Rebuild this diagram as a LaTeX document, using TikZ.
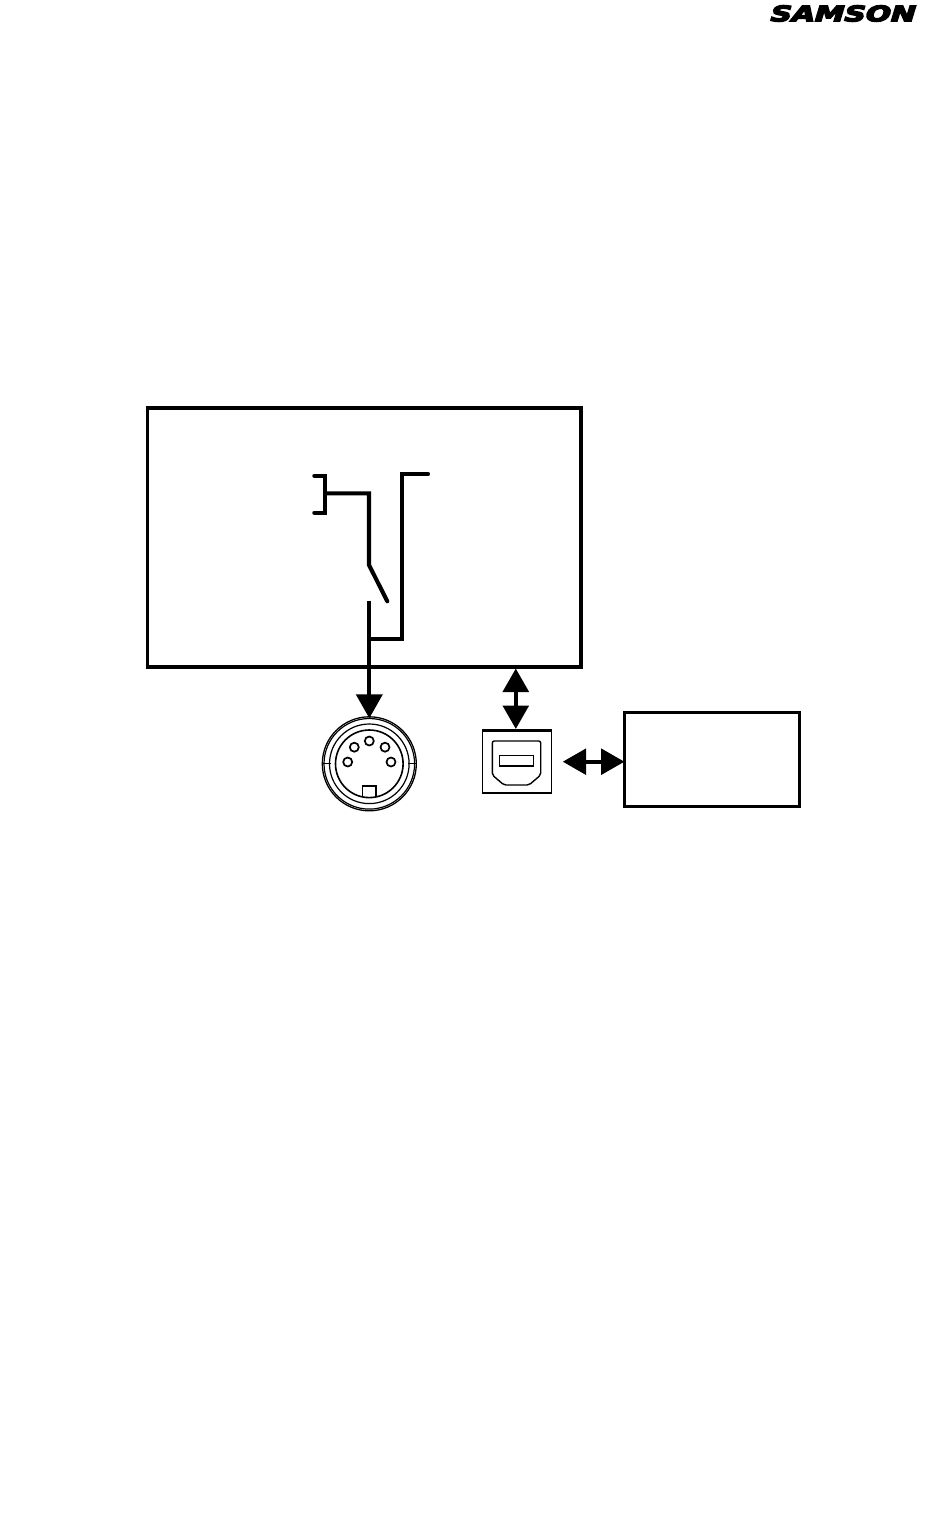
\documentclass[tikz,border=0pt]{standalone}
\usepackage{fontspec}
\usetikzlibrary{arrows.meta}
\newfontfamily\logofont[FakeBold=6,FakeSlant=0.22]{DejaVu Sans Bold}
\tikzset{
  boxthick/.style={draw=black,line width=#1,rectangle,inner sep=0pt,outer sep=0pt},
  wire/.style={draw=black,line width=4.1pt,line cap=round,line join=miter},
  dblarrow/.style={draw=black,line width=4.4pt,{Triangle[length=23.5pt,width=25.5pt]}-{Triangle[length=23.5pt,width=25.5pt]}},
  sglarrow/.style={draw=black,line width=4.1pt,shorten >=-1.5pt,-{Triangle[length=24pt,width=26pt]}},
  thinring/.style={draw=black,line width=1.2pt},
  pin/.style={draw=black,line width=1.7pt,circle,minimum size=9pt,inner sep=0pt,outer sep=0pt},
}
\begin{document}
\begin{tikzpicture}[x=1pt,y=-1pt]
\useasboundingbox[fill=white] (0,0) rectangle (950,1538);

% logo
\node[inner sep=0pt,anchor=center,xscale=1.38] (logo) at (841,13.5)
  {\fontsize{21.5}{21.5}\selectfont\logofont SAMSON};
\node[inner sep=0pt] (tm) at (915.5,6) {\fontsize{3}{3}\selectfont ®};

% boxes
\node[boxthick=3.6pt,minimum width=433.5pt,minimum height=259pt] (main) at (364.3,537.5) {};
\node[boxthick=3pt,minimum width=175pt,minimum height=94pt] (pc) at (712,759) {};
\node[boxthick=1.6pt,minimum width=69pt,minimum height=63pt] (usb) at (517.1,761.5) {};
\draw[line width=3pt] (usb.north west) -- (usb.north east);

% USB-B receptacle
\draw[line width=1.4pt,rounded corners=2pt]
  (492.3,741) -- (540.7,741) -- (540.7,775) -- (529,785) -- (504,785) -- (492.3,775) -- cycle;
\node[boxthick=1.4pt,minimum width=34pt,minimum height=10.3pt] (slot) at (516.4,760.8) {};

% DIN socket
\node[draw=black,line width=1.3pt,circle,minimum size=94pt,inner sep=0pt,outer sep=0pt] (din) at (369.3,763.8) {};
\draw[thinring] (din.center) circle (45.3);
\draw[thinring] (din.center) circle (39.8);
\draw[line width=1.6pt] (din.center) circle (33.8);
\draw[line width=1.1pt] (din.west) -- ++(8.5,0);
\draw[line width=1.1pt] (din.east) -- ++(-8.5,0);
\node[pin] (p1) at (369.3,741) {};
\node[pin] (p2) at (354.3,747.2) {};
\node[pin] (p3) at (385,747.2) {};
\node[pin] (p4) at (347.7,762) {};
\node[pin] (p5) at (391,762) {};
\draw[line width=1.2pt] (362.7,796.5) -- (362.7,786) -- (376,786) -- (376,796.5);

% switch wiring
\coordinate (brT) at (314.3,475.7);
\coordinate (brB) at (314.3,512.7);
\coordinate (brJ) at (325,493.3);
\coordinate (upper) at (369,565);
\coordinate (blade) at (387.3,601.3);
\coordinate (lower) at (369.3,600.5);
\coordinate (junc) at (369.3,638.7);
\coordinate (thruTop) at (428,474);
\draw[wire] (brT) -- (325,475.7) -- (325,512.7) -- (brB);
\draw[wire] (brJ) -- (369,493.3) -- (upper) -- (blade);
\draw[wire] (junc) -- (401.7,638.7) -- (401.7,474) -- (thruTop);
\draw[sglarrow] (lower) -- (din.north);

% bidirectional arrows
\coordinate (va) at (515.8,668.5);
\coordinate (vb) at (515.8,729);
\coordinate (ha) at (562.7,761.7);
\coordinate (hb) at (624.5,761.7);
\draw[dblarrow] (va) -- (vb);
\draw[dblarrow] (ha) -- (hb);
\end{tikzpicture}
\end{document}
